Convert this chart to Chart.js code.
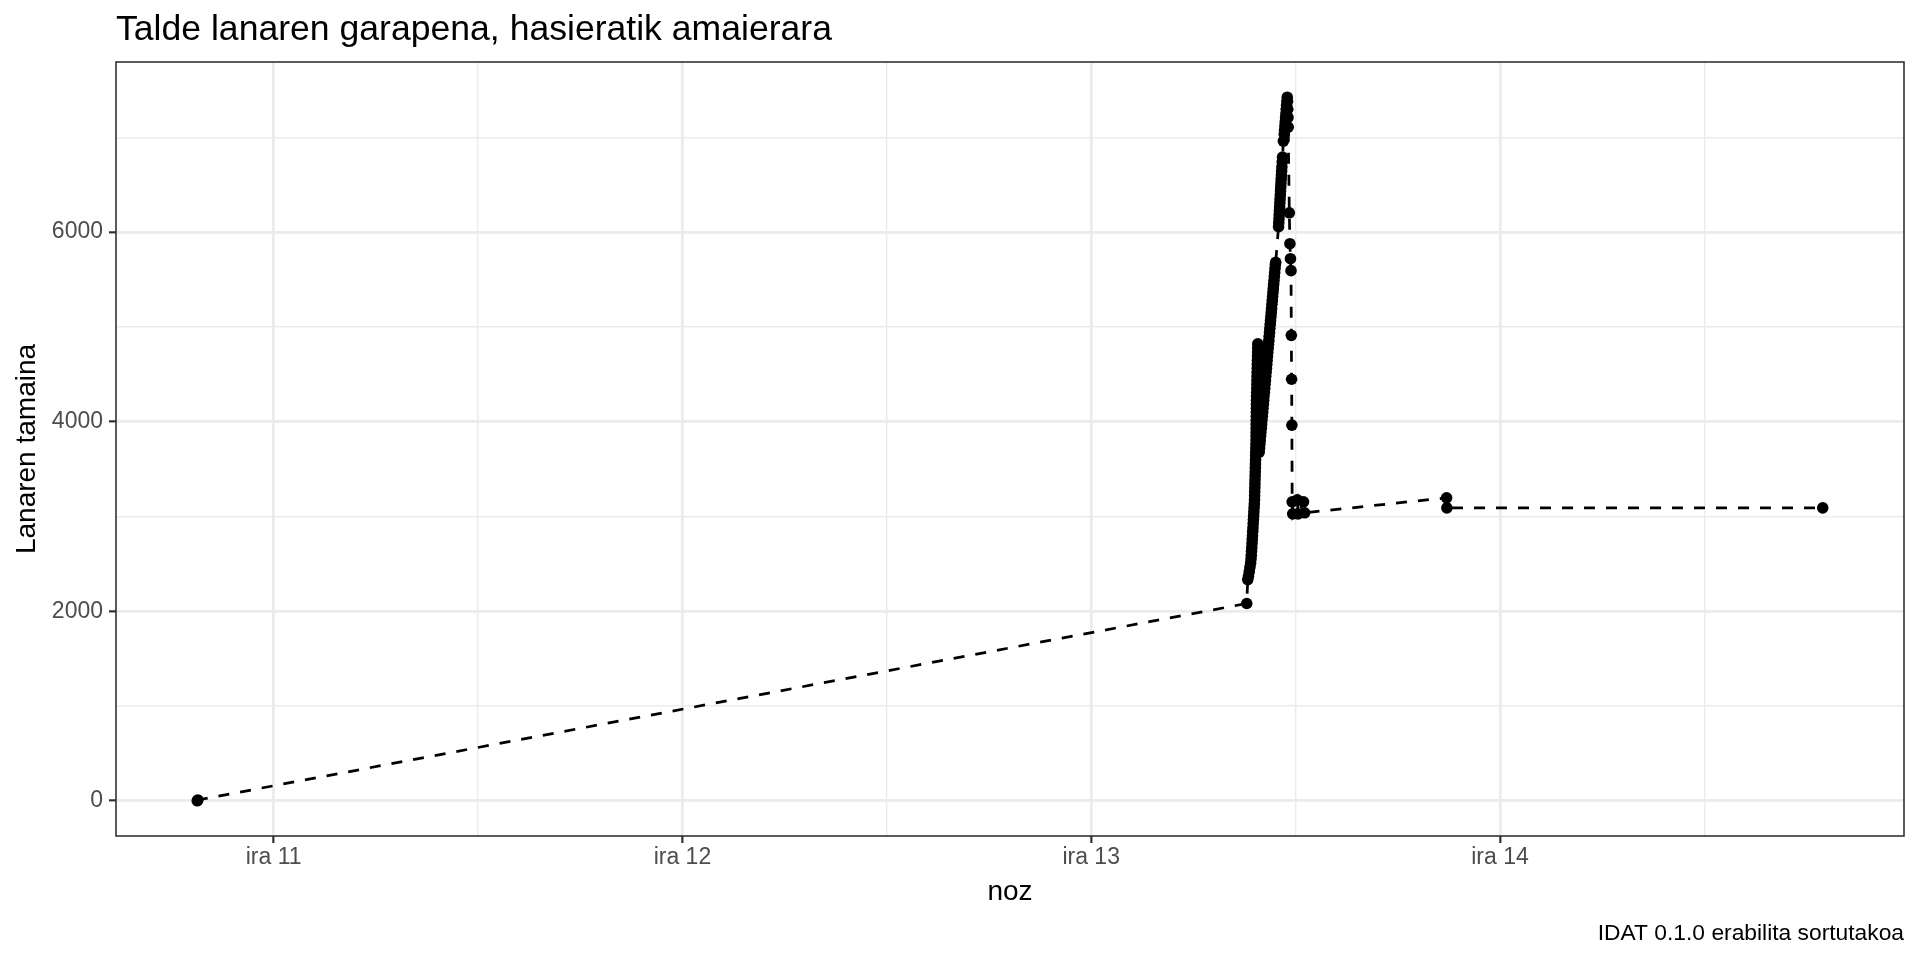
<!DOCTYPE html>
<html lang="eu">
<head>
  <meta charset="UTF-8">
  <title>Talde lanaren garapena</title>
  <script src="https://cdn.jsdelivr.net/npm/chart.js"></script>
  <style>
    body {
      margin: 0;
      background: #ffffff;
    }

    canvas {
      display: block;
    }
  </style>
</head>
<body>
  <canvas id="chart" width="1920" height="960"></canvas>

  <script>
    // noiz: 'eguna ordua' (iraila), tamaina: lanaren tamaina une horretan
    const noiz = [
      '10 19:31:00', '10 19:33:00',
      '13 09:08:00',
      // lehen igoera
      '13 09:11:30', '13 09:14:10', '13 09:16:45', '13 09:19:20', '13 09:21:40', '13 09:23:05',
      '13 09:24:00', '13 09:24:50', '13 09:25:40', '13 09:26:35', '13 09:27:20', '13 09:28:10',
      '13 09:29:05', '13 09:29:55', '13 09:30:40', '13 09:31:30', '13 09:32:15', '13 09:33:05',
      '13 09:33:50', '13 09:34:40', '13 09:35:25', '13 09:35:45', '13 09:36:05', '13 09:36:30',
      '13 09:36:50', '13 09:37:10', '13 09:37:35', '13 09:37:55', '13 09:38:15', '13 09:38:40',
      '13 09:39:00', '13 09:39:20', '13 09:39:45', '13 09:40:05', '13 09:40:25', '13 09:40:42',
      '13 09:40:52', '13 09:41:03', '13 09:41:14', '13 09:41:24', '13 09:41:35', '13 09:41:46',
      '13 09:41:57', '13 09:42:07', '13 09:42:18', '13 09:42:28', '13 09:42:48', '13 09:43:07',
      '13 09:43:27', '13 09:43:46', '13 09:44:06', '13 09:44:25', '13 09:44:45', '13 09:45:05',
      '13 09:45:24', '13 09:45:44', '13 09:46:03', '13 09:46:23', '13 09:46:42', '13 09:47:02',
      // bigarren igoera
      '13 09:52:00', '13 09:53:10', '13 09:54:25', '13 09:55:35', '13 09:56:50', '13 09:58:00',
      '13 09:59:15', '13 10:00:25', '13 10:01:40', '13 10:02:50', '13 10:04:05', '13 10:05:15',
      '13 10:06:30', '13 10:07:40', '13 10:08:55', '13 10:10:05', '13 10:11:20', '13 10:12:30',
      '13 10:13:45', '13 10:14:55', '13 10:16:10', '13 10:17:20', '13 10:18:35', '13 10:19:45',
      '13 10:21:00', '13 10:22:10', '13 10:23:25', '13 10:24:35', '13 10:25:50', '13 10:27:00',
      '13 10:28:15', '13 10:29:25', '13 10:30:40', '13 10:31:50', '13 10:33:05', '13 10:34:15',
      '13 10:35:30', '13 10:36:40', '13 10:37:55', '13 10:39:05', '13 10:40:20', '13 10:41:30',
      '13 10:42:45', '13 10:43:55', '13 10:45:10', '13 10:46:20', '13 10:47:35', '13 10:48:45',
      '13 10:50:00',
      // gailurrera
      '13 11:00:00', '13 11:00:45', '13 11:01:35', '13 11:02:20', '13 11:03:05', '13 11:03:55',
      '13 11:04:40', '13 11:05:25', '13 11:06:15', '13 11:07:00', '13 11:07:50', '13 11:08:35',
      '13 11:09:20', '13 11:10:10', '13 11:10:55', '13 11:11:45', '13 11:12:55', '13 11:14:00',
      '13 11:17:00',
      '13 11:20:10', '13 11:21:20', '13 11:22:30', '13 11:23:40', '13 11:24:50', '13 11:26:00',
      '13 11:27:10', '13 11:28:20', '13 11:29:30', '13 11:30:40', '13 11:31:40', '13 11:32:30',
      '13 11:33:20', '13 11:34:00',
      // jaitsiera
      '13 11:38:00', '13 11:40:00', '13 11:42:00', '13 11:44:00', '13 11:45:00',
      '13 11:46:00', '13 11:47:00',
      '13 11:48:00', '13 11:50:00', '13 12:06:00', '13 12:09:00', '13 12:28:00', '13 12:32:00',
      '13 20:52:00', '13 20:53:00',
      '14 18:57:00'
    ];
    const tamaina = [
      0, 9,
      2082,
      2334, 2371, 2418, 2466, 2509, 2551,
      2590, 2633, 2671, 2716, 2758, 2797,
      2843, 2880, 2925, 2968, 3006, 3050,
      3092, 3131, 3176, 3218, 3261, 3302,
      3346, 3387, 3429, 3470, 3514, 3555,
      3597, 3640, 3681, 3722, 3765, 3806,
      3848, 3889, 3932, 3974, 4015, 4058,
      4100, 4141, 4184, 4227, 4269, 4311,
      4353, 4396, 4438, 4480, 4522, 4565,
      4607, 4649, 4692, 4735, 4778, 4821,
      3680, 3722, 3765, 3806, 3848, 3891,
      3932, 3975, 4017, 4058, 4101, 4143,
      4185, 4227, 4270, 4311, 4353, 4396,
      4437, 4480, 4521, 4564, 4606, 4648,
      4690, 4732, 4774, 4817, 4858, 4901,
      4943, 4985, 5027, 5069, 5111, 5153,
      5195, 5238, 5280, 5322, 5364, 5406,
      5448, 5490, 5532, 5574, 5616, 5657,
      5682,
      6057, 6099, 6141, 6183, 6225, 6267,
      6309, 6351, 6393, 6435, 6477, 6519,
      6561, 6603, 6645, 6688, 6740, 6793,
      6961,
      7034, 7076, 7121, 7163, 7208, 7250,
      7296, 7338, 7381, 7424, 7380, 7296,
      7210, 7108,
      6204, 5878, 5720, 5594, 4911,
      4448, 3964,
      3155, 3028, 3176, 3028, 3155, 3039,
      3197, 3091,
      3091
    ];

    const xTicks = [11, 11.5, 12, 12.5, 13, 13.5, 14, 14.5];
    const yTicks = [0, 1000, 2000, 3000, 4000, 5000, 6000, 7000];
    const hilabetea = 'ira';

    const izenburua = 'Talde lanaren garapena, hasieratik amaierara';
    const oharra = 'IDAT 0.1.0 erabilita sortutakoa';
    const xIzena = 'noz';
    const yIzena = 'Lanaren tamaina';

    function egunera(s) {
      const [d, hms] = s.split(' ');
      const [h, m, sec] = hms.split(':').map(Number);
      return Number(d) + (h * 3600 + m * 60 + sec) / 86400;
    }

    const puntuak = noiz.map((t, i) => ({ x: egunera(t), y: tamaina[i] }));

    // ggplot bezala, %5eko tartea alde bakoitzean
    const xs = puntuak.map(p => p.x);
    const xMin0 = Math.min(...xs), xMax0 = Math.max(...xs);
    const yMin0 = Math.min(...tamaina), yMax0 = Math.max(...tamaina);
    const xPad = (xMax0 - xMin0) * 0.05;
    const yPad = (yMax0 - yMin0) * 0.05;

    const FONT = '"Liberation Sans", Arial, Helvetica, sans-serif';
    Chart.defaults.font.family = FONT;

    const isMajorX = v => Number.isInteger(v);
    const isMajorY = v => v % 2000 === 0;

    const panelaEtaTestua = {
      id: 'panelaEtaTestua',
      afterDatasetsDraw(chart) {
        const { ctx, chartArea: a } = chart;
        ctx.save();
        ctx.strokeStyle = '#333333';
        ctx.lineWidth = 1.6;
        ctx.strokeRect(a.left, a.top, a.right - a.left, a.bottom - a.top);
        ctx.restore();
      },
      afterDraw(chart) {
        const { ctx, chartArea: a } = chart;
        ctx.save();
        ctx.fillStyle = '#000000';
        ctx.textBaseline = 'alphabetic';
        ctx.font = '35.6px ' + FONT;
        ctx.textAlign = 'left';
        ctx.fillText(izenburua, a.left, 40);
        ctx.font = '22.8px ' + FONT;
        ctx.textAlign = 'right';
        ctx.fillText(oharra, a.right, 940);
        ctx.restore();
      }
    };

    new Chart(document.getElementById('chart'), {
      type: 'line',
      data: {
        datasets: [{
          data: puntuak,
          borderColor: '#000000',
          borderWidth: 2.75,
          borderDash: [11, 11],
          borderCapStyle: 'butt',
          pointRadius: 5.8,
          pointHoverRadius: 5.8,
          pointBackgroundColor: '#000000',
          pointBorderWidth: 0,
          tension: 0,
          fill: false
        }]
      },
      options: {
        responsive: false,
        animation: false,
        events: [],
        layout: { padding: { top: 62, right: 16, bottom: 0, left: 0 } },
        plugins: {
          legend: { display: false },
          tooltip: { enabled: false }
        },
        scales: {
          x: {
            type: 'linear',
            bounds: 'data',
            min: xMin0 - xPad,
            max: xMax0 + xPad,
            afterBuildTicks: axis => { axis.ticks = xTicks.map(v => ({ value: v })); },
            afterFit: axis => { axis.height = 124; },
            border: { display: false },
            grid: {
              color: '#EBEBEB',
              lineWidth: c => (c.tick && isMajorX(c.tick.value)) ? 2.7 : 1.4,
              tickColor: c => (c.tick && isMajorX(c.tick.value)) ? '#333333' : 'rgba(0,0,0,0)',
              tickWidth: 2.2,
              tickLength: 7
            },
            ticks: {
              autoSkip: false,
              maxRotation: 0,
              padding: 1,
              color: '#4D4D4D',
              font: { size: 23 },
              callback: v => isMajorX(v) ? hilabetea + ' ' + v : ''
            },
            title: {
              display: true,
              text: xIzena,
              color: '#000000',
              font: { size: 28 },
              padding: { top: 0, bottom: 50.5 }
            }
          },
          y: {
            type: 'linear',
            bounds: 'data',
            min: yMin0 - yPad,
            max: yMax0 + yPad,
            afterBuildTicks: axis => { axis.ticks = yTicks.map(v => ({ value: v })); },
            afterFit: axis => { axis.width = 116; },
            border: { display: false },
            grid: {
              color: '#EBEBEB',
              lineWidth: c => (c.tick && isMajorY(c.tick.value)) ? 2.7 : 1.4,
              tickColor: c => (c.tick && isMajorY(c.tick.value)) ? '#333333' : 'rgba(0,0,0,0)',
              tickWidth: 2.2,
              tickLength: 7
            },
            ticks: {
              autoSkip: false,
              padding: 6,
              color: '#4D4D4D',
              font: { size: 23 },
              callback: v => isMajorY(v) ? String(v) : ''
            },
            title: {
              display: true,
              text: yIzena,
              color: '#000000',
              font: { size: 28 },
              padding: { top: 10, bottom: 0 }
            }
          }
        }
      },
      plugins: [panelaEtaTestua]
    });
  </script>
</body>
</html>
